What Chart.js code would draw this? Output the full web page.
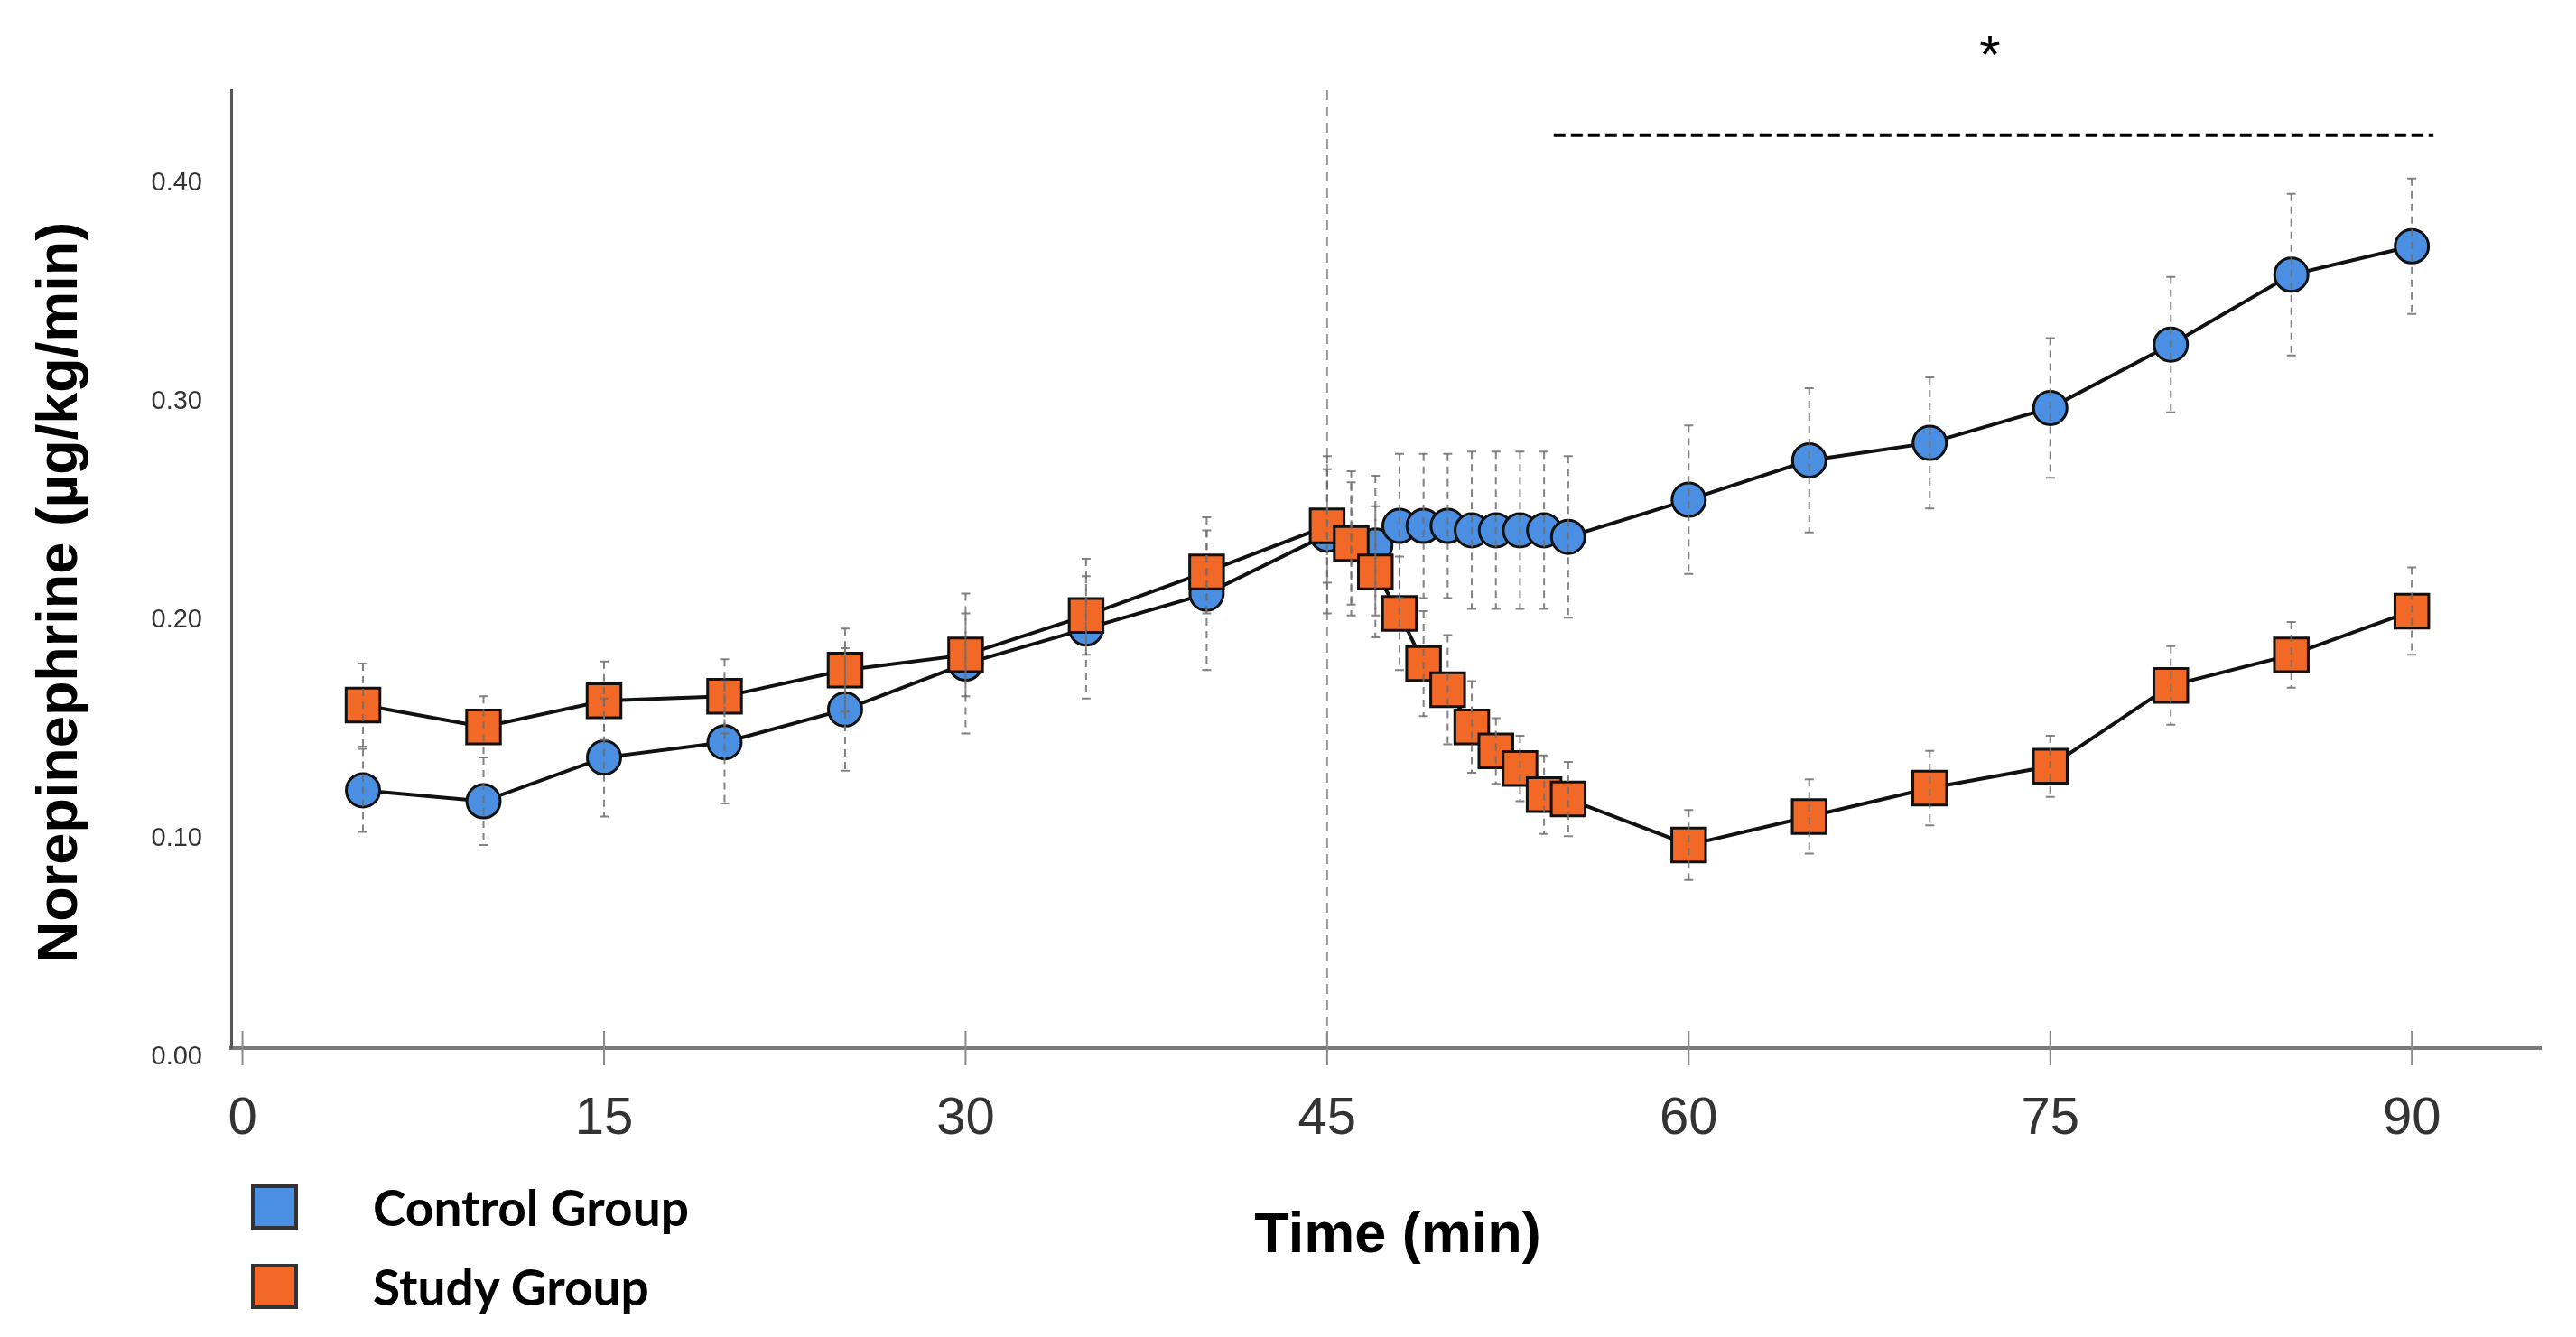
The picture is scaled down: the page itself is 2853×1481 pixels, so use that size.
<!DOCTYPE html>
<html>
<head>
<meta charset="utf-8">
<script src="https://cdn.jsdelivr.net/npm/chart.js@4.4.1/dist/chart.umd.min.js"></script>
<style>
  html, body { margin: 0; padding: 0; background: #fff; }
  #wrap { position: relative; width: 2853px; height: 1481px; overflow: hidden; }
  #legend { position: absolute; left: 278px; top: 1312px; font-family: Lato, "Open Sans", sans-serif; font-weight: 700; font-size: 55px; color: #000; }
  .item { display: flex; align-items: center; height: 50px; margin-bottom: 38px; }
  .sw { width: 52px; height: 50px; box-sizing: border-box; border: 4px solid #333; }
  .lbl { margin-left: 83px; line-height: 50px; white-space: nowrap; }
</style>
</head>
<body>
<div id="wrap">
  <canvas id="c" width="2853" height="1481"></canvas>
  <div id="legend"></div>
</div>
<script>
// ---- data ----
const times = [5,10,15,20,25,30,35,40,45,46,47,48,49,50,51,52,53,54,55,60,65,70,75,80,85,90];
const controlMean = [0.118,0.113,0.133,0.140,0.155,0.176,0.192,0.208,0.235,0.231,0.230,0.239,0.239,0.239,0.237,0.237,0.237,0.237,0.234,0.251,0.269,0.277,0.293,0.322,0.354,0.367];
const controlErr  = [0.019,0.020,0.027,0.028,0.028,0.032,0.032,0.035,0.036,0.033,0.032,0.033,0.033,0.033,0.036,0.036,0.036,0.036,0.037,0.034,0.033,0.030,0.032,0.031,0.037,0.031];
const studyMean   = [0.157,0.147,0.159,0.161,0.173,0.180,0.198,0.218,0.239,0.231,0.218,0.199,0.176,0.164,0.147,0.136,0.128,0.116,0.114,0.093,0.106,0.119,0.129,0.166,0.180,0.200];
const studyErr    = [0.019,0.014,0.018,0.017,0.019,0.019,0.018,0.019,0.026,0.028,0.030,0.026,0.024,0.025,0.021,0.015,0.015,0.018,0.017,0.016,0.017,0.017,0.014,0.018,0.015,0.020];
const seriesLabels = ['Control Group', 'Study Group'];
const seriesColors = ['#4A8FE2', '#F26826'];
const xTicks = [0, 15, 30, 45, 60, 75, 90];
const yTicks = [0.00, 0.10, 0.20, 0.30, 0.40];
const refLineX = 45;
const sigStart = 54.4, sigEnd = 90.9, sigY = 0.4178;
const starX = 72.5, starY = 0.4605;
const xTitle = 'Time (min)';
const yTitle = 'Norepinephrine (µg/kg/min)';

// ---- legend (HTML) ----
const lg = document.getElementById('legend');
seriesLabels.forEach((t, i) => {
  const d = document.createElement('div'); d.className = 'item';
  const s = document.createElement('div'); s.className = 'sw'; s.style.background = seriesColors[i];
  const l = document.createElement('div'); l.className = 'lbl'; l.textContent = t;
  d.appendChild(s); d.appendChild(l); lg.appendChild(d);
});

const errors = [controlErr, studyErr];

const refLinePlugin = {
  id: 'refLine',
  beforeDatasetsDraw(chart) {
    const {ctx, chartArea, scales: {x}} = chart;
    const px = x.getPixelForValue(refLineX);
    ctx.save();
    ctx.strokeStyle = '#9a9a9a'; ctx.lineWidth = 2; ctx.setLineDash([11, 7]);
    ctx.beginPath(); ctx.moveTo(px, chartArea.top); ctx.lineTo(px, chartArea.bottom); ctx.stroke();
    ctx.restore();
  }
};

const errorBarPlugin = {
  id: 'errBars',
  afterDatasetsDraw(chart) {
    const {ctx, scales: {y}} = chart;
    ctx.save();
    chart.data.datasets.forEach((ds, di) => {
      const meta = chart.getDatasetMeta(di);
      const err = errors[di];
      meta.data.forEach((pt, i) => {
        const v = ds.data[i].y;
        const yt = y.getPixelForValue(v + err[i]);
        const yb = y.getPixelForValue(v - err[i]);
        ctx.strokeStyle = 'rgba(110,110,110,0.85)';
        ctx.lineWidth = 2;
        ctx.setLineDash([8, 6]);
        ctx.beginPath(); ctx.moveTo(pt.x, yt); ctx.lineTo(pt.x, yb); ctx.stroke();
        ctx.setLineDash([]);
        ctx.beginPath();
        ctx.moveTo(pt.x - 5, yt); ctx.lineTo(pt.x + 5, yt);
        ctx.moveTo(pt.x - 5, yb); ctx.lineTo(pt.x + 5, yb);
        ctx.stroke();
      });
    });
    ctx.restore();
  }
};

const axisTickPlugin = {
  id: 'axisTicks',
  afterDraw(chart) {
    const {ctx, chartArea, scales: {x}} = chart;
    ctx.save();
    ctx.strokeStyle = '#8a8a8a'; ctx.lineWidth = 2;
    x.ticks.forEach(t => {
      const px = x.getPixelForValue(t.value);
      ctx.beginPath(); ctx.moveTo(px, chartArea.bottom - 19); ctx.lineTo(px, chartArea.bottom + 19); ctx.stroke();
    });
    ctx.restore();
  }
};

const titlePlugin = {
  id: 'axisTitles',
  afterDraw(chart) {
    const {ctx} = chart;
    ctx.save();
    ctx.fillStyle = '#000';
    ctx.font = 'bold 63px "Liberation Sans", Arial, sans-serif';
    ctx.textAlign = 'center'; ctx.textBaseline = 'middle';
    ctx.fillText(xTitle, 1548, 1370);
    ctx.translate(68, 656);
    ctx.rotate(-Math.PI / 2);
    ctx.fillText(yTitle, 0, 0);
    ctx.restore();
  }
};

const sigPlugin = {
  id: 'sig',
  afterDraw(chart) {
    const {ctx, scales: {x, y}} = chart;
    ctx.save();
    const py = y.getPixelForValue(sigY);
    ctx.strokeStyle = '#000'; ctx.lineWidth = 4; ctx.setLineDash([13, 6]);
    ctx.beginPath(); ctx.moveTo(x.getPixelForValue(sigStart), py); ctx.lineTo(x.getPixelForValue(sigEnd), py); ctx.stroke();
    ctx.setLineDash([]);
    ctx.fillStyle = '#000';
    ctx.font = '60px "Liberation Sans", Arial, sans-serif';
    ctx.textAlign = 'center'; ctx.textBaseline = 'alphabetic';
    ctx.fillText('*', x.getPixelForValue(starX), y.getPixelForValue(starY) + 34);
    ctx.restore();
  }
};

const mk = (arr) => times.map((t, i) => ({x: t, y: arr[i]}));

new Chart(document.getElementById('c'), {
  type: 'line',
  data: {
    datasets: [
      {
        label: seriesLabels[0], data: mk(controlMean),
        borderColor: '#111', borderWidth: 4,
        pointStyle: 'circle', pointRadius: 18.5, pointBorderWidth: 3,
        pointBackgroundColor: seriesColors[0], pointBorderColor: '#111',
        order: 2
      },
      {
        label: seriesLabels[1], data: mk(studyMean),
        borderColor: '#111', borderWidth: 4,
        pointStyle: 'rect', pointRadius: 26.5, pointBorderWidth: 3,
        pointBackgroundColor: seriesColors[1], pointBorderColor: '#111',
        order: 1
      }
    ]
  },
  options: {
    responsive: false, animation: false, devicePixelRatio: 1,
    layout: { padding: { top: 100, right: 39, left: 0, bottom: 0 } },
    plugins: { legend: { display: false }, tooltip: { enabled: false } },
    elements: { line: { tension: 0 } },
    scales: {
      x: {
        type: 'linear', min: -0.47, max: 95.35,
        afterBuildTicks: s => { s.ticks = xTicks.map(v => ({value: v})); },
        afterFit: s => { s.height = 320; },
        grid: { display: false, drawTicks: false },
        border: { display: true, color: '#7a7a7a', width: 4 },
        ticks: { autoSkip: false, maxRotation: 0, padding: 44, color: '#333',
                 font: { family: '"Liberation Sans", Arial, sans-serif', size: 58 },
                 callback: v => String(v) },
        title: { display: false, text: xTitle }
      },
      y: {
        type: 'linear', min: 0, max: 0.4384,
        afterBuildTicks: s => { s.ticks = yTicks.map(v => ({value: v})); },
        afterFit: s => { s.width = 256; },
        grid: { display: false, drawTicks: false },
        border: { display: true, color: '#555', width: 3 },
        ticks: { padding: 32, labelOffset: 10, color: '#333',
                 font: { family: '"Liberation Sans", Arial, sans-serif', size: 29 },
                 callback: v => Number(v).toFixed(2) },
        title: { display: false, text: yTitle }
      }
    }
  },
  plugins: [refLinePlugin, errorBarPlugin, axisTickPlugin, titlePlugin, sigPlugin]
});
</script>
</body>
</html>
